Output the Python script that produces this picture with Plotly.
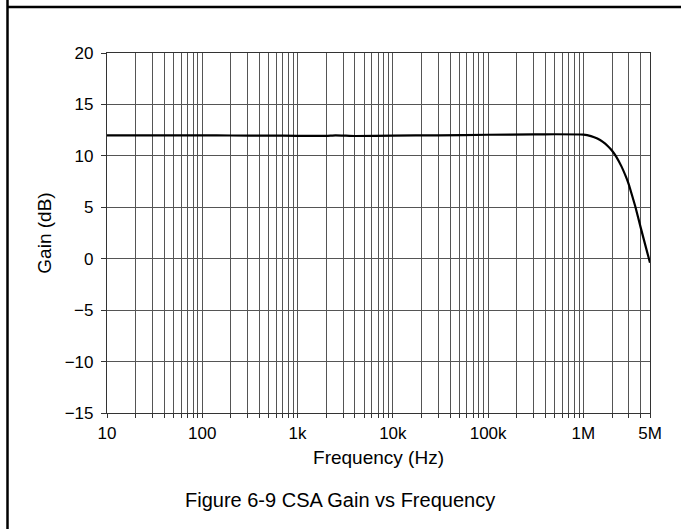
import plotly.graph_objects as go

# Data
freq_hz = [10, 20, 50, 100, 200, 500, 1e3, 2e3, 2.5e3, 4e3, 1e4, 3e4, 1e5, 3e5,
           5e5, 1e6, 1.2e6, 1.4e6, 1.6e6, 1.8e6, 2e6, 2.2e6, 2.5e6, 2.8e6, 3e6,
           3.5e6, 4e6, 4.5e6, 5e6]
gain_db = [12.0, 12.0, 12.0, 12.0, 11.98, 11.97, 11.95, 11.94, 12.0, 11.93, 11.97, 12.0,
           12.05, 12.08, 12.1, 12.07, 11.92, 11.68, 11.36, 10.96, 10.5, 9.95, 9.0, 7.95, 7.2,
           5.1, 3.0, 1.2, -0.4]

major_ticks = [10, 100, 1e3, 1e4, 1e5, 1e6, 5e6]
major_labels = ["10", "100", "1k", "10k", "100k", "1M", "5M"]
y_ticks = [-15, -10, -5, 0, 5, 10, 15, 20]

# grid positions: every 1..9 multiple per decade, up to 5M
grid_vals = []
for d in [10, 100, 1e3, 1e4, 1e5, 1e6]:
    for m in range(1, 10):
        v = d * m
        if v <= 5e6:
            grid_vals.append(v)
grid_text = [major_labels[major_ticks.index(v)] if v in major_ticks else "" for v in grid_vals]

FONT = "Liberation Sans, Arial, sans-serif"

fig = go.Figure()
fig.add_trace(go.Scatter(x=freq_hz, y=gain_db, mode="lines",
                         line=dict(color="black", width=2.2, shape="spline", smoothing=0.3),
                         showlegend=False, hoverinfo="skip"))

W, H = 681, 529
L, R, T, B = 107, 650, 53, 413

fig.update_layout(
    width=W, height=H,
    margin=dict(l=L, r=W - R, t=T, b=H - B),
    paper_bgcolor="white", plot_bgcolor="white",
    font=dict(family=FONT, size=17, color="black"),
    xaxis=dict(
        type="log", range=[1, 6.69897],
        tickvals=grid_vals, ticktext=grid_text,
        showgrid=True, gridcolor="#555555", gridwidth=1,
        showline=True, linecolor="#333333", linewidth=1.2, mirror=True,
        ticks="outside", ticklen=4, tickcolor="#333333",
        tickfont=dict(family=FONT, size=17),
        title=dict(text="Frequency (Hz)", standoff=9, font=dict(family=FONT, size=19)),
        zeroline=False,
    ),
    yaxis=dict(
        range=[-15, 20], tickvals=y_ticks,
        showgrid=True, gridcolor="#555555", gridwidth=1,
        showline=True, linecolor="#333333", linewidth=1.2, mirror=True,
        ticks="outside", ticklen=5, tickcolor="#333333",
        ticklabelstandoff=4,
        tickfont=dict(family=FONT, size=17),
        title=dict(text="Gain (dB)", standoff=8, font=dict(family=FONT, size=19)),
        zeroline=False,
    ),
)

pw, ph = R - L, B - T
def px_x(x):
    return (x - L) / pw
def px_y(y):
    return 1 - (y - T) / ph

# table-cell border lines (left and top)
fig.add_shape(type="line", xref="paper", yref="paper",
              x0=px_x(7.5), x1=px_x(7.5), y0=px_y(0), y1=px_y(H),
              line=dict(color="black", width=2.5))
fig.add_shape(type="line", xref="paper", yref="paper",
              x0=px_x(7.5), x1=px_x(W), y0=px_y(7), y1=px_y(7),
              line=dict(color="black", width=2.5))

fig.add_annotation(text="Figure 6-9 CSA Gain vs Frequency", xref="paper", yref="paper",
                   x=px_x(340), y=px_y(500), showarrow=False, xanchor="center", yanchor="middle",
                   font=dict(family=FONT, size=20, color="black"))

fig.write_html("out.html")
